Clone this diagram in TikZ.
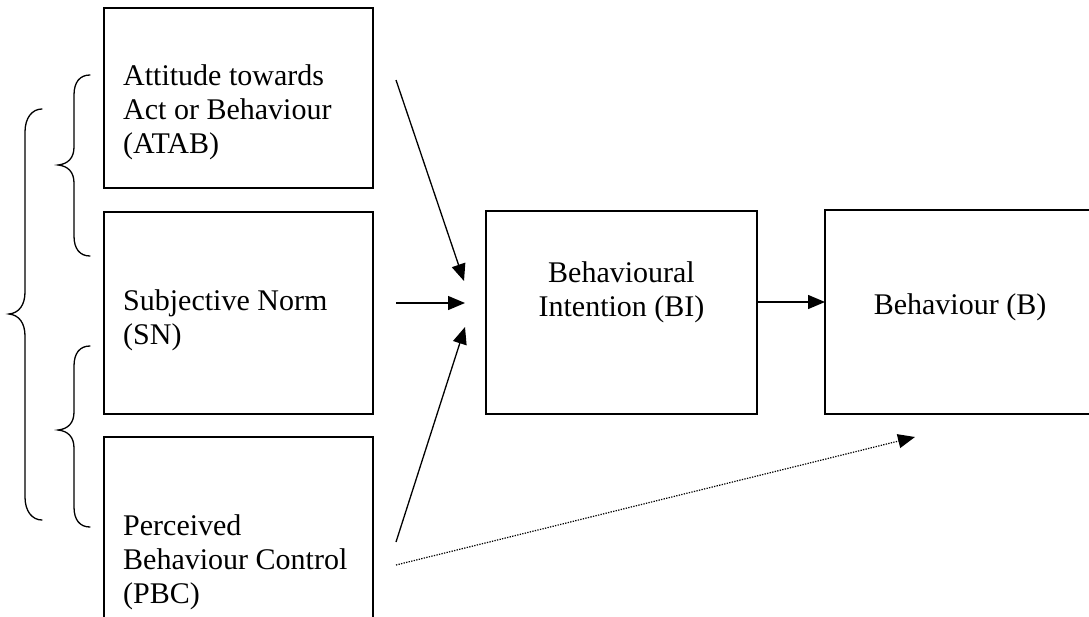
\documentclass[tikz,border=0pt]{standalone}
\usepackage{fontspec}
\setmainfont{Liberation Serif}
\usetikzlibrary{arrows.meta}
\begin{document}
\begin{tikzpicture}[x=1pt,y=-1pt,
  box/.style={draw, line width=1.5pt, inner sep=0pt},
  lbl/.style={inner sep=0pt, font=\fontsize{30}{34.5}\selectfont},
  conn/.style={line width=1.3pt, -{Triangle[length=17pt,width=14pt]}},
  weak/.style={line width=1.2pt, dash pattern=on 1.3pt off 1.3pt, -{Triangle[length=17pt,width=14pt]}},
  curly/.style={line width=1.3pt, line cap=round}]
\useasboundingbox (0,0) rectangle (1089,616);
\clip (0,0) rectangle (1089,616);

% boxes
\node[box, minimum width=269pt, minimum height=180pt] (atab) at (238.5,98) {};
\node[box, minimum width=269pt, minimum height=202pt] (sn) at (238.5,313) {};
\node[box, minimum width=269pt, minimum height=203pt] (pbc) at (238.5,538.5) {};
\node[box, minimum width=271pt, minimum height=203pt] (bi) at (621.5,312.5) {};
\node[box, minimum width=271pt, minimum height=204pt] (b) at (960.5,312) {};

% box texts
\node[lbl, anchor=base west] (t1) at (123,85) {Attitude towards};
\node[lbl, anchor=base west] (t2) at (123,119) {Act or Behaviour};
\node[lbl, anchor=base west] (t3) at (123,153) {(ATAB)};
\node[lbl, anchor=base west] (t4) at (123,310) {Subjective Norm};
\node[lbl, anchor=base west] (t5) at (123,344) {(SN)};
\node[lbl, anchor=base west] (t6) at (123,535) {Perceived};
\node[lbl, anchor=base west] (t7) at (123,569) {Behaviour Control};
\node[lbl, anchor=base west] (t8) at (123,603) {(PBC)};
\node[lbl, anchor=base] (t9) at (621.5,282) {Behavioural};
\node[lbl, anchor=base] (t10) at (621.5,316) {Intention (BI)};
\node[lbl, anchor=base] (t11) at (960,314) {Behaviour (B)};

% connector ends
\coordinate (s1) at (396,80);
\coordinate (e1) at (464,281);
\coordinate (s2) at (396,303);
\coordinate (e2) at (465,303);
\coordinate (s3) at (396,542);
\coordinate (e3) at (465,327);
\coordinate (s4) at (396,565);
\coordinate (e4) at (915,437);
\coordinate (s5) at (757,302);
\coordinate (e5) at (825,302);

\draw[conn] (s1) -- (e1);
\draw[conn] (s2) -- (e2);
\draw[conn] (s3) -- (e3);
\draw[weak] (s4) -- (e4);
\draw[conn] (s5) -- (e5);

% braces
\draw[curly] (90,75) .. controls (80,75) and (74,82) .. (74,95) -- (74,147)
  .. controls (74,158) and (68,164) .. (58,165)
  .. controls (68,166) and (74,172) .. (74,183) -- (74,236)
  .. controls (74,249) and (80,256) .. (90,256);
\draw[curly] (90,346) .. controls (80,346) and (74,353) .. (74,366) -- (74,412)
  .. controls (74,423) and (68,429) .. (58,430)
  .. controls (68,431) and (74,437) .. (74,448) -- (74,507)
  .. controls (74,520) and (80,527) .. (90,527);
\draw[curly] (42,109) .. controls (32,109) and (25,118) .. (25,132) -- (25,292)
  .. controls (25,305) and (19,313) .. (9,314)
  .. controls (19,315) and (25,323) .. (25,336) -- (25,497)
  .. controls (25,511) and (32,520) .. (42,520);
\end{tikzpicture}
\end{document}
